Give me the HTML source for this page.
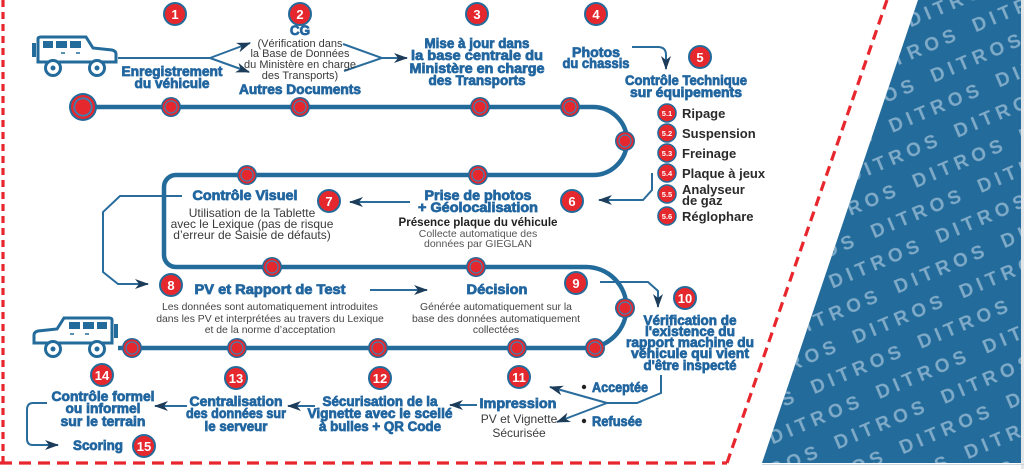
<!DOCTYPE html>
<html><head><meta charset="utf-8"><style>
html,body{margin:0;padding:0;background:#fff;width:1024px;height:469px;overflow:hidden;}
svg{display:block;overflow:hidden;}
.h{font-family:"Liberation Sans",sans-serif;font-weight:bold;fill:#2266a0;stroke:#2266a0;stroke-width:0.75;text-anchor:middle;font-size:13.5px;}
.r{font-family:"Liberation Sans",sans-serif;fill:#3a3a3a;text-anchor:middle;}
.s{font-family:"Liberation Sans",sans-serif;font-weight:bold;fill:#2a2a2a;font-size:13px;}
.b{font-family:"Liberation Sans",sans-serif;font-weight:bold;fill:#fff;text-anchor:middle;font-size:13px;}
.bs{font-family:"Liberation Sans",sans-serif;font-weight:bold;fill:#fff;text-anchor:middle;font-size:7.5px;}
.a{fill:none;stroke:#2a6c9c;stroke-width:2;}
</style></head><body>
<svg width="1024" height="469" viewBox="0 0 1024 469" xmlns="http://www.w3.org/2000/svg">
<defs>
<marker id="ah" viewBox="0 0 14 10" refX="13" refY="5" markerWidth="14" markerHeight="10" markerUnits="userSpaceOnUse" orient="auto">
<path d="M0,0 L14,5 L0,10 L4,5 z" fill="#1d3c5a"/>
</marker>
<pattern id="dp" patternUnits="userSpaceOnUse" width="116" height="60" patternTransform="rotate(-23 890 235)">
<g font-family="Liberation Sans, sans-serif" font-weight="bold" font-size="19" fill="#8fb5d0" fill-opacity="0.85">
<text x="4" y="22" textLength="96" lengthAdjust="spacing">DITROS</text>
<text x="62" y="52" textLength="96" lengthAdjust="spacing">DITROS</text>
<text x="-54" y="52" textLength="96" lengthAdjust="spacing">DITROS</text>
</g>
</pattern>
<g id="node"><circle r="10" fill="#236b9b"/><circle r="8.5" fill="#e5282e"/><circle r="6.6" fill="#3a80b2"/><circle r="5.4" fill="#e5282e"/></g>
<g id="car" fill="none" stroke="#236b9b" stroke-width="3">
<path d="M38,62 L38,39 Q38,37 41,37 L86,37 L93,48 L112,50 Q116,51 116,54 L116,62 Z" fill="#fff"/>
<rect x="32" y="43" width="4" height="14" fill="#236b9b" stroke="none"/>
<rect x="43" y="41" width="10" height="7" fill="#236b9b" stroke="none"/>
<rect x="56" y="41" width="11" height="7" fill="#236b9b" stroke="none"/>
<rect x="70" y="41" width="11" height="7" fill="#236b9b" stroke="none"/>
<path d="M61,53 L65,53 M76,53 L80,53" stroke-width="1.5"/>
<circle cx="53" cy="68" r="7.5" fill="#fff"/><circle cx="53" cy="68" r="2.5" fill="#236b9b" stroke="none"/>
<circle cx="97" cy="68" r="7.5" fill="#fff"/><circle cx="97" cy="68" r="2.5" fill="#236b9b" stroke="none"/>
</g>
</defs>

<!-- blue pattern region -->
<polygon points="918,0 1021,0 1021,463 762,463" fill="#226b9a"/>
<polygon points="918,0 1021,0 1021,463 762,463" fill="url(#dp)"/>
<rect x="1021" y="0" width="3" height="469" fill="#e3e7ea"/>
<line x1="762" y1="464.5" x2="1024" y2="464.5" stroke="#cdd6dd" stroke-width="1"/>

<!-- red dashed frame -->
<line x1="3" y1="0" x2="3" y2="463" stroke="#e8262d" stroke-width="3.2" stroke-dasharray="7 5"/>
<line x1="0" y1="463" x2="727" y2="463" stroke="#e8262d" stroke-width="3.2" stroke-dasharray="12 7"/>
<line x1="727" y1="463" x2="887" y2="0" stroke="#e8262d" stroke-width="3.2" stroke-dasharray="10 6"/>

<!-- track -->
<path d="M83,107 L593,107 A34,34 0 0 1 593,175 L176,175 A12,12 0 0 0 164,187 L164,255 A12,12 0 0 0 176,267 L586,267 A40.5,40.5 0 0 1 586,348 L118,348" fill="none" stroke="#236b9b" stroke-width="4.5"/>

<!-- cars -->
<use href="#car"/>
<use href="#car" transform="translate(150,281) scale(-1,1)"/>

<!-- track nodes -->
<circle cx="83" cy="107" r="14" fill="#236b9b"/><circle cx="83" cy="107" r="12" fill="#e5282e"/><circle cx="83" cy="107" r="9.6" fill="#3a80b2"/><circle cx="83" cy="107" r="7.8" fill="#e5282e"/>
<use href="#node" x="171" y="107"/><use href="#node" x="300" y="107"/><use href="#node" x="480" y="107"/><use href="#node" x="570" y="107"/><use href="#node" x="625" y="141"/>
<use href="#node" x="247" y="175"/><use href="#node" x="478" y="175"/>
<use href="#node" x="272" y="267"/><use href="#node" x="476" y="267"/><use href="#node" x="625" y="308"/>
<use href="#node" x="132" y="348"/><use href="#node" x="237" y="348"/><use href="#node" x="378" y="348"/><use href="#node" x="517" y="348"/><use href="#node" x="595" y="348"/>

<!-- arrows -->
<path class="a" d="M118,58 L210,58"/>
<path class="a" d="M210,58 L250,43" marker-end="url(#ah)"/>
<path class="a" d="M210,58 L249,72" marker-end="url(#ah)"/>
<path class="a" d="M343,44 L382,58 L344,71"/>
<path class="a" d="M382,58 L407,58" marker-end="url(#ah)"/>
<path class="a" d="M632,47 L658,47 Q666,47 666,55 L666,69" marker-end="url(#ah)"/>
<path class="a" d="M652,173 L652,190 L643,200 L599,200" marker-end="url(#ah)"/>
<path class="a" d="M410,202 L350,202" marker-end="url(#ah)"/>
<path class="a" d="M182,196 L120,196 L103,212 L103,272 L118,284 L148,284" marker-end="url(#ah)"/>
<path class="a" d="M370,290 L427,290" marker-end="url(#ah)"/>
<path class="a" d="M600,282 L648,282 L658,291 L658,307" marker-end="url(#ah)"/>
<path class="a" d="M661,375 L661,393 L637,403 L607,403"/>
<path class="a" d="M607,403 L550,387" marker-end="url(#ah)"/>
<path class="a" d="M607,403 L557,422" marker-end="url(#ah)"/>
<path class="a" d="M477,405 L450,405" marker-end="url(#ah)"/>
<path class="a" d="M315,406 L288,406" marker-end="url(#ah)"/>
<path class="a" d="M187,406 L155,406" marker-end="url(#ah)"/>
<path class="a" d="M47,403 L33,403 Q27,403 27,410 L27,439 Q27,445 33,445 L58,445" marker-end="url(#ah)"/>

<!-- number badges -->
<g stroke="#236b9b" stroke-width="2" fill="#e5282e">
<circle cx="175" cy="14" r="11"/><circle cx="300" cy="14" r="11"/><circle cx="477" cy="14" r="11"/><circle cx="596" cy="14" r="11"/>
<circle cx="700" cy="57" r="11"/><circle cx="572" cy="201" r="11"/><circle cx="329" cy="201" r="11"/><circle cx="171" cy="285" r="11"/>
<circle cx="576" cy="283" r="11"/><circle cx="685" cy="298" r="11"/><circle cx="519" cy="377" r="11"/><circle cx="380" cy="378" r="11"/>
<circle cx="236" cy="378" r="11"/><circle cx="102" cy="375" r="11"/><circle cx="144" cy="446" r="11"/>
</g>
<text class="b" x="175" y="19">1</text><text class="b" x="300" y="19">2</text><text class="b" x="477" y="19">3</text><text class="b" x="596" y="19">4</text>
<text class="b" x="700" y="62">5</text><text class="b" x="572" y="206">6</text><text class="b" x="329" y="206">7</text><text class="b" x="171" y="290">8</text>
<text class="b" x="576" y="288">9</text><text class="b" x="685" y="303" font-size="12">10</text><text class="b" x="519" y="382" font-size="12">11</text><text class="b" x="380" y="383" font-size="12">12</text>
<text class="b" x="236" y="383" font-size="12">13</text><text class="b" x="102" y="380" font-size="12">14</text><text class="b" x="144" y="451" font-size="12">15</text>

<!-- sub badges 5.x -->
<g stroke="#236b9b" stroke-width="1.6" fill="#e5282e">
<circle cx="667" cy="113" r="9"/><circle cx="667" cy="133" r="9"/><circle cx="667" cy="153" r="9"/><circle cx="667" cy="173" r="9"/><circle cx="667" cy="194" r="9"/><circle cx="667" cy="216" r="9"/>
</g>
<text class="bs" x="667" y="116">5.1</text><text class="bs" x="667" y="136">5.2</text><text class="bs" x="667" y="156">5.3</text><text class="bs" x="667" y="176">5.4</text><text class="bs" x="667" y="197">5.5</text><text class="bs" x="667" y="219">5.6</text>
<text class="s" x="682" y="118">Ripage</text>
<text class="s" x="682" y="138">Suspension</text>
<text class="s" x="682" y="158">Freinage</text>
<text class="s" x="682" y="178">Plaque à jeux</text>
<text class="s" x="682" y="194">Analyseur</text>
<text class="s" x="682" y="205">de gaz</text>
<text class="s" x="682" y="221">Réglophare</text>

<!-- headings -->
<text class="h" x="172" y="76" textLength="101" lengthAdjust="spacingAndGlyphs">Enregistrement</text>
<text class="h" x="172" y="88" textLength="75" lengthAdjust="spacingAndGlyphs">du véhicule</text>
<text class="h" x="300" y="35">CG</text>
<text class="h" x="300" y="94" textLength="122" lengthAdjust="spacingAndGlyphs">Autres Documents</text>
<text class="h" x="477" y="48" textLength="105" lengthAdjust="spacingAndGlyphs">Mise à jour dans</text>
<text class="h" x="477" y="60" textLength="132" lengthAdjust="spacingAndGlyphs">la base centrale du</text>
<text class="h" x="477" y="73" textLength="135" lengthAdjust="spacingAndGlyphs">Ministère en charge</text>
<text class="h" x="477" y="85" textLength="97" lengthAdjust="spacingAndGlyphs">des Transports</text>
<text class="h" x="596" y="57" textLength="48" lengthAdjust="spacingAndGlyphs">Photos</text>
<text class="h" x="596" y="68" textLength="67" lengthAdjust="spacingAndGlyphs">du chassis</text>
<text class="h" x="686" y="85" textLength="122" lengthAdjust="spacingAndGlyphs">Contrôle Technique</text>
<text class="h" x="686" y="97" textLength="112" lengthAdjust="spacingAndGlyphs">sur équipements</text>
<text class="h" x="245" y="200" textLength="105" lengthAdjust="spacingAndGlyphs">Contrôle Visuel</text>
<text class="h" x="478" y="200" textLength="107" lengthAdjust="spacingAndGlyphs">Prise de photos</text>
<text class="h" x="478" y="212" textLength="120" lengthAdjust="spacingAndGlyphs">+ Géolocalisation</text>
<text class="h" x="270" y="294" font-size="14.5" textLength="151" lengthAdjust="spacingAndGlyphs">PV et Rapport de Test</text>
<text class="h" x="497" y="294" font-size="14.5" textLength="61" lengthAdjust="spacingAndGlyphs">Décision</text>
<text class="h" x="690" y="325" textLength="93" lengthAdjust="spacingAndGlyphs">Vérification de</text>
<text class="h" x="690" y="336" textLength="90" lengthAdjust="spacingAndGlyphs">l'existence du</text>
<text class="h" x="690" y="347" textLength="128" lengthAdjust="spacingAndGlyphs">rapport machine du</text>
<text class="h" x="690" y="358" textLength="118" lengthAdjust="spacingAndGlyphs">véhicule qui vient</text>
<text class="h" x="690" y="370" textLength="93" lengthAdjust="spacingAndGlyphs">d'être inspecté</text>
<circle cx="584" cy="387" r="2.2" fill="#222"/>
<text class="h" x="592" y="392" style="text-anchor:start" textLength="56" lengthAdjust="spacingAndGlyphs">Acceptée</text>
<circle cx="584" cy="421" r="2.2" fill="#222"/>
<text class="h" x="592" y="426" style="text-anchor:start" textLength="50" lengthAdjust="spacingAndGlyphs">Refusée</text>
<text class="h" x="518" y="408" font-size="14.5" textLength="77" lengthAdjust="spacingAndGlyphs">Impression</text>
<text class="h" x="380" y="406" textLength="115" lengthAdjust="spacingAndGlyphs">Sécurisation de la</text>
<text class="h" x="380" y="418" textLength="145" lengthAdjust="spacingAndGlyphs">Vignette avec le scellé</text>
<text class="h" x="380" y="431" textLength="122" lengthAdjust="spacingAndGlyphs">à bulles + QR Code</text>
<text class="h" x="236" y="406" textLength="93" lengthAdjust="spacingAndGlyphs">Centralisation</text>
<text class="h" x="236" y="418" textLength="100" lengthAdjust="spacingAndGlyphs">des données sur</text>
<text class="h" x="236" y="431" textLength="63" lengthAdjust="spacingAndGlyphs">le serveur</text>
<text class="h" x="103" y="401" textLength="103" lengthAdjust="spacingAndGlyphs">Contrôle formel</text>
<text class="h" x="103" y="413" textLength="75" lengthAdjust="spacingAndGlyphs">ou informel</text>
<text class="h" x="103" y="426" textLength="85" lengthAdjust="spacingAndGlyphs">sur le terrain</text>
<text class="h" x="98" y="450" textLength="50" lengthAdjust="spacingAndGlyphs">Scoring</text>

<!-- regular text -->
<g class="r" font-size="11">
<text x="300" y="47">(Vérification dans</text>
<text x="300" y="57">la Base de Données</text>
<text x="300" y="68">du Ministère en charge</text>
<text x="300" y="79">des Transports)</text>
</g>
<g class="r" font-size="12">
<text x="252" y="217">Utilisation de la Tablette</text>
<text x="252" y="228">avec le Lexique (pas de risque</text>
<text x="252" y="239">d’erreur de Saisie de défauts)</text>
</g>
<text class="r" x="478" y="226" font-size="11.5" font-weight="bold" style="fill:#222" textLength="159" lengthAdjust="spacingAndGlyphs">Présence plaque du véhicule</text>
<g class="r" font-size="10.5" style="fill:#555">
<text x="478" y="237">Collecte automatique des</text>
<text x="478" y="247">données par GIEGLAN</text>
</g>
<g class="r" font-size="10.4" style="fill:#444">
<text x="270" y="310">Les données sont automatiquement introduites</text>
<text x="270" y="322">dans les PV et interprétées au travers du Lexique</text>
<text x="270" y="333">et de la norme d’acceptation</text>
<text x="496" y="310">Générée automatiquement sur la</text>
<text x="496" y="322">base des données automatiquement</text>
<text x="496" y="333">collectées</text>
</g>
<g class="r" font-size="12">
<text x="519" y="423">PV et Vignette</text>
<text x="519" y="437">Sécurisée</text>
</g>
</svg>
</body></html>
